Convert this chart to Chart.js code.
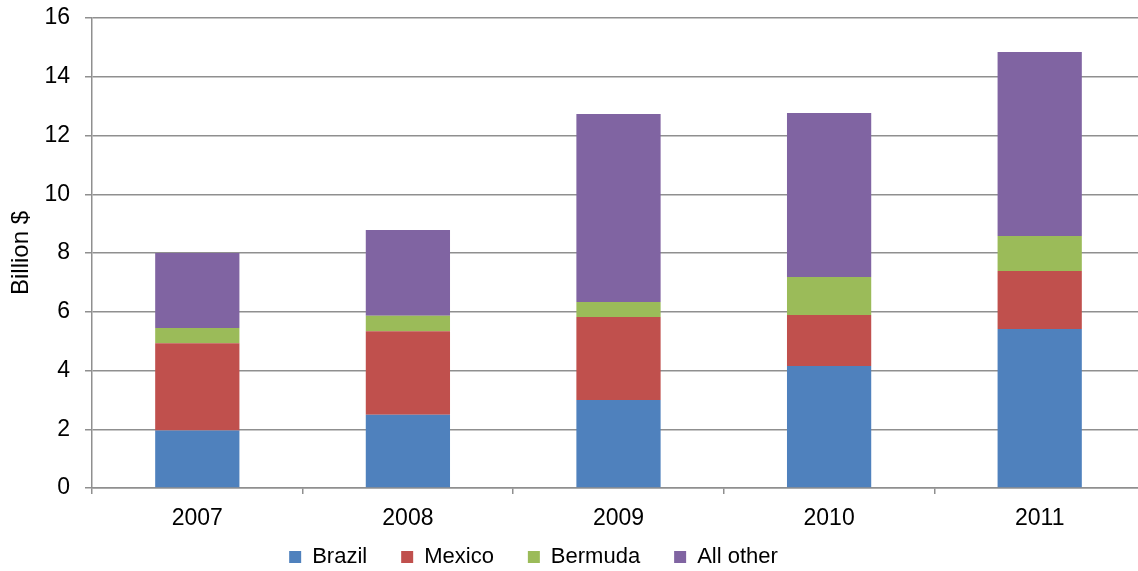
<!DOCTYPE html>
<html lang="en">
<head>
    <meta charset="UTF-8">
    <title>Billion $ by country</title>
    <script src="https://cdn.jsdelivr.net/npm/chart.js"></script>
    <style>
        * { margin: 0; padding: 0; box-sizing: border-box; }
        body { width: 1138px; height: 571px; background: #ffffff; overflow: hidden; }
        .wrap { position: relative; width: 1138px; height: 571px; overflow: hidden; }
    </style>
</head>
<body>
    <div class="wrap">
        <!-- plot area runs a little past the right edge, like the original -->
        <canvas id="chart" width="1146" height="614"></canvas>
    </div>

    <script>
        const years = ['2007', '2008', '2009', '2010', '2011'];
        const brazil = [1.96, 2.49, 3.0, 4.15, 5.41];
        const mexico = [2.97, 2.85, 2.82, 1.74, 1.98];
        const bermuda = [0.52, 0.52, 0.51, 1.29, 1.19];
        const allOther = [2.55, 2.92, 6.40, 5.59, 6.26];

        const gridGray = '#8f8f8f';
        const fontFamily = "'Liberation Sans', Arial, sans-serif";

        Chart.defaults.font.family = fontFamily;
        Chart.defaults.color = '#000000';

        // move the legend up and left so it sits where the original has it
        const legendShift = {
            id: 'legendShift',
            afterLayout(chart) {
                const lg = chart.legend;
                lg.left -= 39;
                lg.right -= 39;
                lg.top -= 36;
                lg.bottom -= 36;
            }
        };

        const ctx = document.getElementById('chart').getContext('2d');
        const chart = new Chart(ctx, {
            type: 'bar',
            data: {
                labels: years,
                datasets: [
                    { label: 'Brazil', data: brazil, backgroundColor: '#4F81BD' },
                    { label: 'Mexico', data: mexico, backgroundColor: '#C0504D' },
                    { label: 'Bermuda', data: bermuda, backgroundColor: '#9BBB59' },
                    { label: 'All other', data: allOther, backgroundColor: '#8064A2' }
                ]
            },
            options: {
                responsive: false,
                animation: false,
                devicePixelRatio: 1,
                layout: { padding: { top: 18, right: 1, left: 0, bottom: 0 } },
                datasets: {
                    bar: { categoryPercentage: 1, barPercentage: 0.4, borderWidth: 0 }
                },
                plugins: {
                    tooltip: { enabled: false },
                    legend: {
                        position: 'bottom',
                        labels: {
                            boxWidth: 12,
                            boxHeight: 12,
                            padding: 34,
                            font: { size: 22 }
                        }
                    }
                },
                scales: {
                    x: {
                        stacked: true,
                        grid: {
                            offset: true,
                            drawOnChartArea: false,
                            drawTicks: true,
                            tickLength: 6,
                            color: gridGray,
                            lineWidth: 1.5
                        },
                        border: { color: gridGray, width: 1.5 },
                        ticks: { font: { size: 23 }, padding: 11 },
                        afterFit(scale) { scale.height = 60; }
                    },
                    y: {
                        stacked: true,
                        min: 0,
                        max: 16,
                        ticks: { stepSize: 2, font: { size: 23 }, padding: 15 },
                        grid: { color: gridGray, tickLength: 7, lineWidth: 1.5 },
                        border: { color: gridGray, width: 1.5 },
                        title: {
                            display: true,
                            text: 'Billion $',
                            font: { size: 24 },
                            padding: { top: 7, bottom: 0 }
                        },
                        afterFit(scale) {
                            scale.width = 92;
                            scale.paddingTop = 0;
                            scale.paddingBottom = 0;
                        }
                    }
                }
            },
            plugins: [legendShift]
        });
    </script>
</body>
</html>
